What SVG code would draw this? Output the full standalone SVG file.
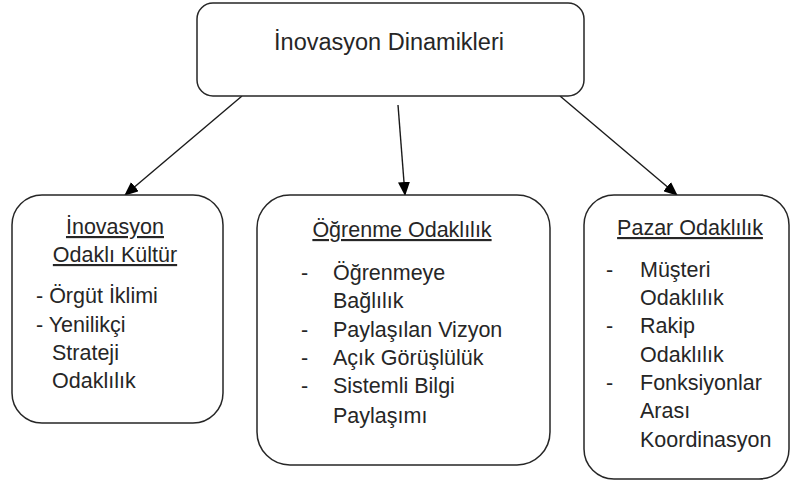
<svg xmlns="http://www.w3.org/2000/svg" width="791" height="484" viewBox="0 0 791 484">
  <style>
    .box { fill: #ffffff; stroke: #262626; stroke-width: 1.5; }
    .t { font-family: "Liberation Sans", Arial, sans-serif; font-size: 21.5px; fill: #262626; }
    .title { font-size: 23.5px; }
    .mid { text-anchor: middle; }
    .u { text-decoration: underline; }
    .edge { stroke: #1a1a1a; stroke-width: 1.4; fill: none; marker-end: url(#arrow); }
  </style>
  <defs>
    <marker id="arrow" markerUnits="userSpaceOnUse" markerWidth="14" markerHeight="12" viewBox="0 0 14 12" refX="13" refY="6" orient="auto">
      <path d="M0,0 L14,6 L0,12 Z" fill="#000000"/>
    </marker>
  </defs>
  <rect width="791" height="484" fill="#ffffff"/>

  <g id="connectors">
    <line class="edge" x1="242" y1="96" x2="125" y2="195"/>
    <line class="edge" x1="398" y1="105" x2="405" y2="195"/>
    <line class="edge" x1="560" y1="96" x2="677" y2="195"/>
  </g>

  <g id="root">
    <rect class="box" x="197" y="3" width="387" height="93" rx="16" ry="16"/>
    <text class="t title mid" x="389" y="50">İnovasyon Dinamikleri</text>
  </g>

  <g id="innovation-culture">
    <rect class="box" x="12" y="195" width="211" height="228" rx="30" ry="30"/>
    <text class="t mid u" x="115" y="234">İnovasyon</text>
    <text class="t mid u" x="115" y="262">Odaklı Kültür</text>
    <text class="t" x="36" y="303">- Örgüt İklimi</text>
    <text class="t" x="36" y="332">- Yenilikçi</text>
    <text class="t" x="52" y="360">Strateji</text>
    <text class="t" x="52" y="388">Odaklılık</text>
  </g>

  <g id="learning-orientation">
    <rect class="box" x="257" y="195" width="293" height="270" rx="33" ry="33"/>
    <text class="t mid u" x="402" y="237">Öğrenme Odaklılık</text>
    <text class="t" x="301" y="280">-</text>
    <text class="t" x="333" y="280">Öğrenmeye</text>
    <text class="t" x="333" y="308">Bağlılık</text>
    <text class="t" x="301" y="337">-</text>
    <text class="t" x="333" y="337">Paylaşılan Vizyon</text>
    <text class="t" x="301" y="365">-</text>
    <text class="t" x="333" y="365">Açık Görüşlülük</text>
    <text class="t" x="301" y="393">-</text>
    <text class="t" x="333" y="393">Sistemli Bilgi</text>
    <text class="t" x="333" y="423">Paylaşımı</text>
  </g>

  <g id="market-orientation">
    <rect class="box" x="584" y="195" width="205" height="284" rx="30" ry="30"/>
    <text class="t mid u" x="690" y="235">Pazar Odaklılık</text>
    <text class="t" x="606" y="277">-</text>
    <text class="t" x="640" y="277">Müşteri</text>
    <text class="t" x="640" y="305">Odaklılık</text>
    <text class="t" x="606" y="333">-</text>
    <text class="t" x="640" y="333">Rakip</text>
    <text class="t" x="640" y="362">Odaklılık</text>
    <text class="t" x="606" y="390">-</text>
    <text class="t" x="640" y="390">Fonksiyonlar</text>
    <text class="t" x="640" y="418">Arası</text>
    <text class="t" x="640" y="447">Koordinasyon</text>
  </g>
</svg>
